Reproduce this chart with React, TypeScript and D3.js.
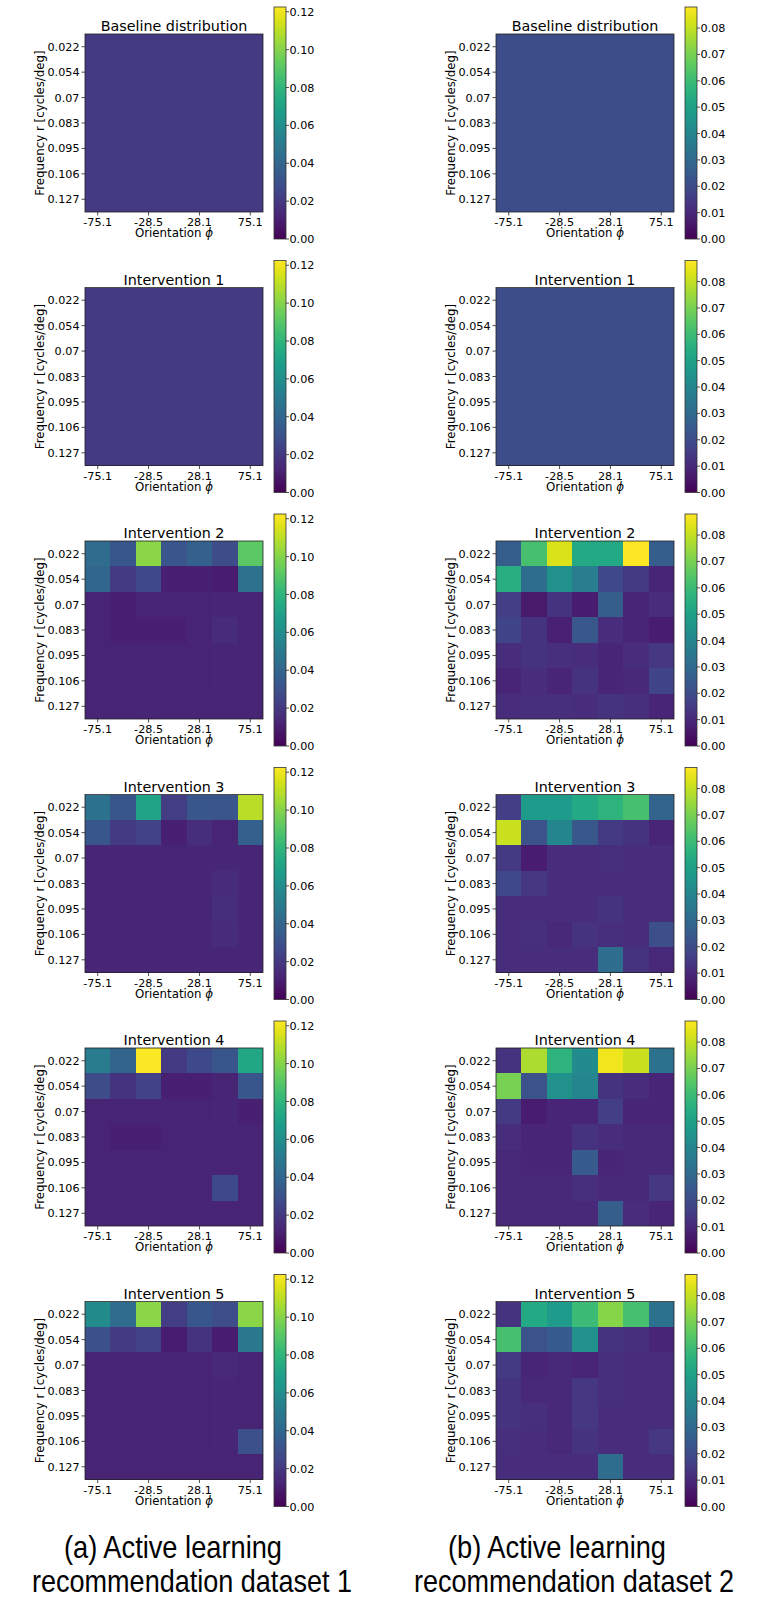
import React from "react";
import * as d3 from "d3";

const orientationLabels = ["-75.1", "-51.8", "-28.5", "0", "28.1", "51.6", "75.1"];
const shownOrientationIdx = [0, 2, 4, 6];
const frequencyLabels = ["0.022", "0.054", "0.07", "0.083", "0.095", "0.106", "0.127"];
const panelTitles = ["Baseline distribution", "Intervention 1", "Intervention 2", "Intervention 3", "Intervention 4", "Intervention 5"];

const leftTicks = [0, 0.02, 0.04, 0.06, 0.08, 0.1, 0.12];
const rightTicks = [0, 0.01, 0.02, 0.03, 0.04, 0.05, 0.06, 0.07, 0.08];
const leftMax = 0.1225;
const rightMax = 0.088;

const captionLeft = ["(a) Active learning", "recommendation dataset 1"];
const captionRight = ["(b) Active learning", "recommendation dataset 2"];

const u = 0.0204;
const uniform = [
  [u, u, u, u, u, u, u],
  [u, u, u, u, u, u, u],
  [u, u, u, u, u, u, u],
  [u, u, u, u, u, u, u],
  [u, u, u, u, u, u, u],
  [u, u, u, u, u, u, u],
  [u, u, u, u, u, u, u],
];

// Dataset 1 (left column)
const leftBaseline = uniform;
const leftInt1 = uniform;
const leftInt2 = [
  [0.043, 0.033, 0.101, 0.032, 0.037, 0.028, 0.091],
  [0.040, 0.021, 0.027, 0.011, 0.011, 0.010, 0.045],
  [0.012, 0.011, 0.012, 0.012, 0.012, 0.013, 0.012],
  [0.012, 0.011, 0.011, 0.011, 0.012, 0.015, 0.012],
  [0.012, 0.012, 0.012, 0.012, 0.012, 0.013, 0.012],
  [0.012, 0.012, 0.012, 0.012, 0.012, 0.013, 0.012],
  [0.012, 0.012, 0.013, 0.012, 0.012, 0.012, 0.012],
];
const leftInt3 = [
  [0.046, 0.033, 0.071, 0.022, 0.033, 0.032, 0.110],
  [0.033, 0.021, 0.024, 0.011, 0.016, 0.012, 0.037],
  [0.013, 0.013, 0.013, 0.012, 0.013, 0.013, 0.013],
  [0.013, 0.013, 0.013, 0.012, 0.013, 0.015, 0.013],
  [0.013, 0.013, 0.013, 0.012, 0.013, 0.016, 0.013],
  [0.013, 0.013, 0.013, 0.012, 0.013, 0.015, 0.013],
  [0.013, 0.013, 0.013, 0.013, 0.013, 0.013, 0.013],
];
const leftInt4 = [
  [0.051, 0.039, 0.122, 0.021, 0.027, 0.033, 0.073],
  [0.028, 0.018, 0.024, 0.011, 0.011, 0.012, 0.033],
  [0.012, 0.012, 0.012, 0.012, 0.012, 0.013, 0.011],
  [0.012, 0.011, 0.011, 0.012, 0.012, 0.012, 0.012],
  [0.012, 0.012, 0.012, 0.012, 0.012, 0.012, 0.012],
  [0.012, 0.012, 0.012, 0.012, 0.012, 0.027, 0.012],
  [0.012, 0.012, 0.012, 0.012, 0.012, 0.012, 0.012],
];
const leftInt5 = [
  [0.059, 0.043, 0.101, 0.022, 0.033, 0.029, 0.101],
  [0.030, 0.021, 0.024, 0.010, 0.018, 0.010, 0.049],
  [0.012, 0.012, 0.012, 0.012, 0.012, 0.014, 0.012],
  [0.012, 0.012, 0.012, 0.012, 0.012, 0.013, 0.012],
  [0.012, 0.012, 0.012, 0.012, 0.012, 0.013, 0.012],
  [0.012, 0.012, 0.012, 0.012, 0.012, 0.013, 0.030],
  [0.012, 0.012, 0.012, 0.012, 0.012, 0.012, 0.012],
];

// Dataset 2 (right column)
const rightBaseline = uniform;
const rightInt1 = uniform;
const rightInt2 = [
  [0.026, 0.062, 0.083, 0.053, 0.053, 0.088, 0.026],
  [0.055, 0.031, 0.044, 0.037, 0.019, 0.015, 0.009],
  [0.016, 0.006, 0.013, 0.007, 0.026, 0.009, 0.011],
  [0.018, 0.013, 0.008, 0.024, 0.011, 0.009, 0.007],
  [0.011, 0.013, 0.012, 0.011, 0.009, 0.011, 0.014],
  [0.009, 0.011, 0.009, 0.013, 0.009, 0.010, 0.018],
  [0.011, 0.012, 0.012, 0.011, 0.013, 0.012, 0.009],
];
const rightInt3 = [
  [0.016, 0.048, 0.048, 0.053, 0.057, 0.062, 0.028],
  [0.081, 0.022, 0.040, 0.024, 0.015, 0.013, 0.009],
  [0.015, 0.007, 0.011, 0.011, 0.012, 0.011, 0.011],
  [0.019, 0.014, 0.011, 0.011, 0.011, 0.011, 0.011],
  [0.011, 0.011, 0.011, 0.011, 0.013, 0.011, 0.011],
  [0.011, 0.012, 0.010, 0.013, 0.012, 0.011, 0.021],
  [0.011, 0.011, 0.011, 0.011, 0.031, 0.013, 0.010],
];
const rightInt4 = [
  [0.013, 0.077, 0.057, 0.042, 0.086, 0.081, 0.033],
  [0.070, 0.022, 0.044, 0.040, 0.013, 0.011, 0.009],
  [0.015, 0.007, 0.009, 0.009, 0.016, 0.009, 0.009],
  [0.011, 0.009, 0.009, 0.013, 0.011, 0.010, 0.010],
  [0.010, 0.009, 0.009, 0.025, 0.009, 0.010, 0.010],
  [0.010, 0.010, 0.010, 0.012, 0.010, 0.010, 0.014],
  [0.010, 0.010, 0.010, 0.010, 0.026, 0.011, 0.009],
];
const rightInt5 = [
  [0.013, 0.053, 0.048, 0.060, 0.072, 0.062, 0.033],
  [0.062, 0.022, 0.025, 0.044, 0.013, 0.012, 0.009],
  [0.015, 0.009, 0.010, 0.009, 0.012, 0.011, 0.011],
  [0.013, 0.010, 0.010, 0.014, 0.012, 0.011, 0.011],
  [0.013, 0.012, 0.010, 0.014, 0.011, 0.011, 0.011],
  [0.012, 0.011, 0.010, 0.013, 0.011, 0.011, 0.014],
  [0.011, 0.011, 0.011, 0.011, 0.031, 0.011, 0.011],
];

const leftPanels = [leftBaseline, leftInt1, leftInt2, leftInt3, leftInt4, leftInt5];
const rightPanels = [rightBaseline, rightInt1, rightInt2, rightInt3, rightInt4, rightInt5];

const FONT = "'DejaVu Sans', sans-serif";
const CAPTION_FONT = "'Liberation Sans', Arial, sans-serif";

const HEAT = 178;
const PANEL_STEP = 253.5;
const TOP0 = 34;

type ColProps = {
  hx: number;
  cbx: number;
  vmax: number;
  ticks: number[];
  panels: number[][][];
  id: string;
};

function Panel({ hx, cbx, vmax, ticks, data, title, hy, id }: { hx: number; cbx: number; vmax: number; ticks: number[]; data: number[][]; title: string; hy: number; id: string }) {
  const x = d3.scaleBand<number>().domain(d3.range(7)).range([hx, hx + HEAT]);
  const y = d3.scaleBand<number>().domain(d3.range(7)).range([hy, hy + HEAT]);
  const color = d3.scaleSequential(d3.interpolateViridis).domain([0, vmax]);
  const cbTop = hy - 27;
  const cbBot = hy + 205;
  const cbW = 12;
  const cy = d3.scaleLinear().domain([0, vmax]).range([cbBot, cbTop]);
  const stops = d3.range(0, 1.0001, 0.05);
  return (
    <g>
      <g shapeRendering="crispEdges">
        {data.map((row, r) =>
          row.map((v, c) => (
            <rect key={`${r}-${c}`} x={x(c)} y={y(r)} width={x.bandwidth() + (c < 6 ? 0.8 : 0)} height={y.bandwidth() + (r < 6 ? 0.8 : 0)} fill={color(v)} />
          ))
        )}
      </g>
      <rect x={hx} y={hy} width={HEAT} height={HEAT} fill="none" stroke="#222" strokeWidth={0.8} />
      <text x={hx + HEAT / 2} y={hy - 3} textAnchor="middle" fontFamily={FONT} fontSize={14.3} fill="#000">{title}</text>
      {frequencyLabels.map((lab, r) => {
        const yy = (y(r) as number) + y.bandwidth() / 2;
        return (
          <g key={lab}>
            <line x1={hx - 3.5} x2={hx} y1={yy} y2={yy} stroke="#222" strokeWidth={0.8} />
            <text x={hx - 5.5} y={yy} dy="0.36em" textAnchor="end" fontFamily={FONT} fontSize={11.2} fill="#000">{lab}</text>
          </g>
        );
      })}
      {shownOrientationIdx.map((ci) => {
        const xx = (x(ci) as number) + x.bandwidth() / 2;
        return (
          <g key={ci}>
            <line x1={xx} x2={xx} y1={hy + HEAT} y2={hy + HEAT + 3.5} stroke="#222" strokeWidth={0.8} />
            <text x={xx} y={hy + 192} textAnchor="middle" fontFamily={FONT} fontSize={11.2} fill="#000">{orientationLabels[ci]}</text>
          </g>
        );
      })}
      <text x={hx + HEAT / 2} y={hy + 203} textAnchor="middle" fontFamily={FONT} fontSize={11.8} fill="#000">
        Orientation <tspan fontStyle="italic">ϕ</tspan>
      </text>
      <text transform={`translate(${hx - 41},${hy + HEAT / 2}) rotate(-90)`} textAnchor="middle" fontFamily={FONT} fontSize={11.8} fill="#000">
        Frequency r [cycles/deg]
      </text>
      <defs>
        <linearGradient id={id} x1="0" y1="1" x2="0" y2="0">
          {stops.map((s) => (
            <stop key={s} offset={s} stopColor={d3.interpolateViridis(s)} />
          ))}
        </linearGradient>
      </defs>
      <rect x={cbx} y={cbTop} width={cbW} height={cbBot - cbTop} fill={`url(#${id})`} stroke="#333" strokeWidth={0.8} />
      {ticks.map((t) => (
        <g key={t}>
          <line x1={cbx + cbW} x2={cbx + cbW + 3} y1={cy(t)} y2={cy(t)} stroke="#222" strokeWidth={0.8} />
          <text x={cbx + cbW + 3.5} y={cy(t)} dy="0.36em" fontFamily={FONT} fontSize={11.2} fill="#000">{t.toFixed(2)}</text>
        </g>
      ))}
    </g>
  );
}

function Column({ hx, cbx, vmax, ticks, panels, id }: ColProps) {
  return (
    <g>
      {panels.map((data, i) => (
        <Panel key={i} hx={hx} cbx={cbx} vmax={vmax} ticks={ticks} data={data} title={panelTitles[i]} hy={TOP0 + PANEL_STEP * i} id={`${id}-grad-${i}`} />
      ))}
    </g>
  );
}

function Caption({ lines, x1, x2 }: { lines: string[]; x1: number; x2: number }) {
  return (
    <g fontFamily={CAPTION_FONT} fontSize={32} fill="#000">
      <text x={x1} y={1558} textLength={218} lengthAdjust="spacingAndGlyphs">{lines[0]}</text>
      <text x={x2} y={1592} textLength={320} lengthAdjust="spacingAndGlyphs">{lines[1]}</text>
    </g>
  );
}

export default function App() {
  return (
    <svg width={760} height={1600} style={{ position: "absolute", left: 0, top: 0 }} xmlns="http://www.w3.org/2000/svg">
      <rect x={0} y={0} width={760} height={1600} fill="#fff" />
      <Column hx={85} cbx={274} vmax={leftMax} ticks={leftTicks} panels={leftPanels} id="left" />
      <Column hx={496} cbx={685} vmax={rightMax} ticks={rightTicks} panels={rightPanels} id="right" />
      <Caption lines={captionLeft} x1={64} x2={32} />
      <Caption lines={captionRight} x1={448} x2={414} />
    </svg>
  );
}
